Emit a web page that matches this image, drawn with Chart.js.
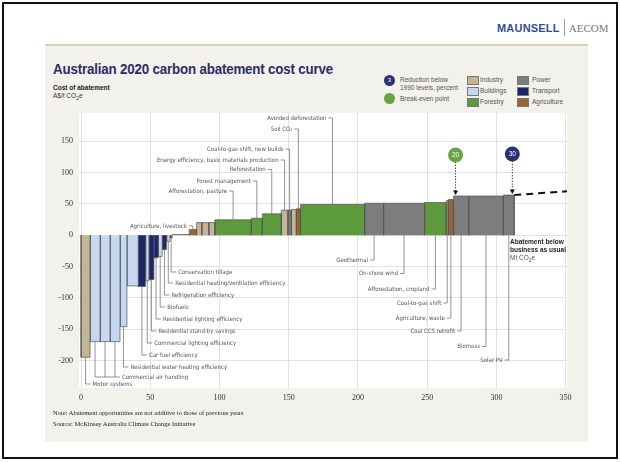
<!DOCTYPE html>
<html>
<head>
<meta charset="utf-8">
<script src="https://cdn.jsdelivr.net/npm/chart.js@4.4.0/dist/chart.umd.min.js"></script>
<style>
  html, body { margin: 0; padding: 0; background: #fff; }
  #page { position: relative; width: 620px; height: 462px; overflow: hidden; font-family: "Liberation Sans", Arial, sans-serif; }
  #frame { position: absolute; left: 2px; top: 2px; width: 612px; height: 453px; border: 2px solid #111; }
  #panel { position: absolute; left: 45px; top: 44px; width: 543px; height: 396px; background: #f2f1ec; border-top: 2px solid #d8d2b6; }
  #logo { position: absolute; left: 497px; top: 19px; height: 18px; font-size: 11px; line-height: 18px; white-space: nowrap; }
  #logo .m { color: #2f4f95; font-weight: bold; letter-spacing: 0.2px; }
  #logo .sep { display: inline-block; width: 1px; height: 17px; background: #999; vertical-align: top; margin: 0 4px 0 4px; }
  #logo .a { color: #777; font-family: "Liberation Serif", serif; }
  #title { position: absolute; left: 53px; top: 60px; font-size: 15.5px; font-weight: bold; color: #2b2e63; white-space: nowrap; letter-spacing: -0.2px; transform: scaleX(0.86); transform-origin: left center; }
  #ylab { position: absolute; left: 53px; top: 84px; font-size: 6.5px; color: #333; line-height: 8px; }
  #ylab b { color: #222; }
  #chartBox { position: absolute; left: 0; top: 0; }
  .leg { position: absolute; font-size: 6.5px; color: #555; line-height: 8px; white-space: nowrap; }
  .dot { position: absolute; width: 11px; height: 11px; border-radius: 50%; color: #fff; font-size: 6px; text-align: center; line-height: 11px; }
  .sw { position: absolute; width: 10px; height: 7px; border: 0.8px solid #777; }
  #bau { position: absolute; left: 510px; top: 238px; font-size: 6.5px; line-height: 8px; color: #222; }
  #notes { position: absolute; left: 53px; top: 407px; font-family: "Liberation Serif", serif; font-size: 6.5px; line-height: 11px; color: #222; }
</style>
</head>
<body>
<div id="page">
  <div id="frame"></div>
  <div id="logo"><span class="m">MAUNSELL</span><span class="sep"></span><span class="a">AECOM</span></div>
  <div id="panel"></div>
  <div id="title">Australian 2020 carbon abatement cost curve</div>
  <div id="ylab"><b>Cost of abatement</b><br>A$/t CO<sub style="font-size:5px">2</sub>e</div>

  <div class="dot" style="left:384px;top:75px;background:#2c3177;">3</div>
  <div class="leg" style="left:400px;top:76px;">Reduction below<br>1990 levels, percent</div>
  <div class="dot" style="left:384px;top:93px;background:#6aa343;"></div>
  <div class="leg" style="left:400px;top:95px;">Break-even point</div>

  <div class="sw" style="left:467px;top:76px;background:#c3b594;"></div>
  <div class="leg" style="left:480px;top:76px;">Industry</div>
  <div class="sw" style="left:467px;top:87px;background:#c5d8ef;"></div>
  <div class="leg" style="left:480px;top:87px;">Buildings</div>
  <div class="sw" style="left:467px;top:98px;background:#5c9a3d;"></div>
  <div class="leg" style="left:480px;top:98px;">Forestry</div>
  <div class="sw" style="left:517px;top:76px;background:#7d7d7d;"></div>
  <div class="leg" style="left:532px;top:76px;">Power</div>
  <div class="sw" style="left:517px;top:87px;background:#20246a;"></div>
  <div class="leg" style="left:532px;top:87px;">Transport</div>
  <div class="sw" style="left:517px;top:98px;background:#9b6434;"></div>
  <div class="leg" style="left:532px;top:98px;">Agriculture</div>

  <canvas id="chartBox" width="620" height="462"></canvas>

  <div id="bau"><b>Abatement below<br>business as usual</b><br><span style="color:#555">Mt CO<sub style="font-size:5px">2</sub>e</span></div>
  <div id="notes">Note: Abatement opportunities are not additive to those of previous years<br>Source: McKinsey Australia Climate Change Initiative</div>
</div>

<script>
// abatement levers, left to right along the curve
const leverNames = [
  "Motor systems", "Commercial air handling", "Commercial air handling", "Commercial air handling",
  "Residential water heating efficiency", "", "Car fuel efficiency", "Commercial lighting efficiency",
  "Residential stand-by savings", "Residential lighting efficiency", "Biofuels", "Refrigeration efficiency",
  "Residential heating/ventilation efficiency", "Conservation tillage",
  "", "Agriculture, livestock", "", "", "",
  "Afforestation, pasture", "Forest management", "Reforestation",
  "Energy efficiency, basic materials production", "Coal-to-gas shift, new builds", "", "Soil CO₂",
  "Avoided deforestation", "Geothermal", "On-shore wind", "Afforestation, cropland",
  "Coal-to-gas shift", "Agriculture, waste", "Coal CCS retrofit", "Biomass", "Solar PV"
];
const leverSectors = [
  "Industry", "Buildings", "Buildings", "Buildings",
  "Buildings", "Buildings", "Transport", "Buildings",
  "Transport", "Transport", "Buildings", "Transport",
  "Buildings", "Agriculture",
  "Industry", "Agriculture", "Industry", "Industry", "Industry",
  "Forestry", "Forestry", "Forestry",
  "Industry", "Power", "Industry", "Agriculture",
  "Forestry", "Power", "Power", "Forestry",
  "Industry", "Agriculture", "Power", "Power", "Power"
];
// abatement volume, Mt CO2e (bar widths)
const leverVolumes = [
  6.5, 7.2, 7.2, 7.2,
  5.0, 8.2, 5.3, 2.4,
  3.6, 3.1, 2.9, 3.2,
  2.4, 1.7,
  12.2, 5.3, 3.8, 5.1, 4.3,
  26.4, 7.9, 13.7,
  4.8, 2.5, 3.6, 2.9,
  46.4, 13.7, 29.6, 15.7,
  1.4, 3.8, 11.0, 25.0, 7.9
];
// cost of abatement, A$/t CO2e (bar heights)
const leverCosts = [
  -195, -170, -170, -170,
  -146, -81, -82, -73,
  -71, -36, -34, -23,
  -10, -4.5,
  1, 9, 20, 20, 20,
  24.5, 27, 34,
  40, 40, 41, 42,
  49, 51, 51, 52,
  55, 57, 62.5, 62.5, 64
];
// dashed continuation of the curve
const trendVolumes = [312.9, 351];
const trendCosts = [64, 70];
// reduction markers: label, abatement volume where reached
const markerLabels = ["20", "30"];
const markerVolumes = [270.5, 311.5];

const xTicks = [0, 50, 100, 150, 200, 250, 300, 350];
const yTicks = [-200, -150, -100, -50, 0, 50, 100, 150];

const sectorColors = {
  Industry: "#c3b594", Buildings: "#c5d8ef", Forestry: "#5c9a3d",
  Power: "#7d7d7d", Transport: "#20246a", Agriculture: "#9b6434"
};
const markerColors = ["#6aa343", "#2c3177"];

// label placement: pixel row, side of text relative to leader
const labelLayout = {
  "Motor systems": [384, "r"],
  "Commercial air handling": [377, "r"],
  "Residential water heating efficiency": [367, "r"],
  "Car fuel efficiency": [355, "r"],
  "Commercial lighting efficiency": [343, "r"],
  "Residential stand-by savings": [331, "r"],
  "Residential lighting efficiency": [319, "r"],
  "Biofuels": [307, "r"],
  "Refrigeration efficiency": [295, "r"],
  "Residential heating/ventilation efficiency": [283, "r"],
  "Conservation tillage": [272, "r"],
  "Agriculture, livestock": [226, "l"],
  "Afforestation, pasture": [191, "l"],
  "Forest management": [181, "l"],
  "Reforestation": [169.5, "l"],
  "Energy efficiency, basic materials production": [160, "l"],
  "Coal-to-gas shift, new builds": [149, "l"],
  "Soil CO₂": [129, "l"],
  "Avoided deforestation": [118, "l"],
  "Geothermal": [260, "l"],
  "On-shore wind": [273.5, "l"],
  "Afforestation, cropland": [289, "l"],
  "Coal-to-gas shift": [303, "l"],
  "Agriculture, waste": [318, "l"],
  "Coal CCS retrofit": [331, "l"],
  "Biomass": [346.5, "l"],
  "Solar PV": [360, "l"]
};

// cumulative start/end of each lever
const leverStart = [];
const leverEnd = [];
let run = 0;
leverVolumes.forEach((w) => {
  leverStart.push(run);
  run += w;
  leverEnd.push(run);
});

const datasets = leverVolumes.map((w, i) => ({
  data: [
    { x: leverStart[i], y: 0 },
    { x: leverStart[i], y: leverCosts[i] },
    { x: leverEnd[i], y: leverCosts[i] },
    { x: leverEnd[i], y: 0 }
  ],
  fill: "origin",
  backgroundColor: sectorColors[leverSectors[i]],
  borderColor: "#555",
  borderWidth: 0.7,
  pointRadius: 0,
  tension: 0
}));

datasets.push({
  data: trendVolumes.map((v, i) => ({ x: v, y: trendCosts[i] })),
  fill: false,
  borderColor: "#111",
  borderWidth: 2,
  borderDash: [7, 5],
  pointRadius: 0
});

const plotBackground = {
  id: "plotBackground",
  beforeDraw(chart) {
    const { ctx, chartArea: a } = chart;
    ctx.save();
    ctx.fillStyle = "#fff";
    ctx.fillRect(a.left, a.top, a.right - a.left, a.bottom - a.top);
    ctx.restore();
  }
};

const leverLabels = {
  id: "leverLabels",
  afterDatasetsDraw(chart) {
    const { ctx, scales: { x, y } } = chart;
    const zero = y.getPixelForValue(0);
    ctx.save();
    ctx.strokeStyle = "#666";
    ctx.lineWidth = 0.7;
    ctx.fillStyle = "#555";
    ctx.font = '6px "Liberation Sans Narrow", "DejaVu Sans Condensed", "Liberation Sans", sans-serif';
    ctx.textBaseline = "middle";

    // group consecutive levers that share one label
    const groups = [];
    leverNames.forEach((name, i) => {
      if (!name) return;
      const last = groups[groups.length - 1];
      if (last && last.name === name && last.idx[last.idx.length - 1] === i - 1) last.idx.push(i);
      else groups.push({ name, idx: [i] });
    });

    groups.forEach((g) => {
      const lay = labelLayout[g.name];
      if (!lay) return;
      const row = lay[0];
      const xs = g.idx.map((i) => x.getPixelForValue((leverStart[i] + leverEnd[i]) / 2));
      g.idx.forEach((i, k) => {
        const top = y.getPixelForValue(leverCosts[i]);
        const from = (row > zero) ? Math.max(top, zero) : Math.min(top, zero);
        ctx.beginPath();
        ctx.moveTo(xs[k], from);
        ctx.lineTo(xs[k], row);
        ctx.stroke();
      });
      ctx.beginPath();
      if (lay[1] === "r") {
        const end = xs[xs.length - 1] + 5;
        ctx.moveTo(xs[0], row);
        ctx.lineTo(end, row);
        ctx.stroke();
        ctx.textAlign = "left";
        ctx.fillText(g.name, end + 2, row);
      } else {
        ctx.moveTo(xs[0] - 4, row);
        ctx.lineTo(xs[0], row);
        ctx.stroke();
        ctx.textAlign = "right";
        ctx.fillText(g.name, xs[0] - 6, row);
      }
    });
    ctx.restore();
  }
};

const reductionMarkers = {
  id: "reductionMarkers",
  afterDatasetsDraw(chart) {
    const { ctx, scales: { x, y } } = chart;
    ctx.save();
    markerVolumes.forEach((v, m) => {
      let cost = 0;
      leverVolumes.forEach((w, i) => {
        if (v >= leverStart[i] - 0.01 && v <= leverEnd[i] + 0.01) cost = Math.max(cost, leverCosts[i]);
      });
      const px = x.getPixelForValue(v);
      const tip = y.getPixelForValue(cost) - 1;
      const cy = tip - 40;
      ctx.strokeStyle = "#222";
      ctx.lineWidth = 1;
      ctx.setLineDash([1.2, 1.6]);
      ctx.beginPath();
      ctx.moveTo(px, cy + 7);
      ctx.lineTo(px, tip - 4);
      ctx.stroke();
      ctx.setLineDash([]);
      ctx.fillStyle = "#111";
      ctx.beginPath();
      ctx.moveTo(px - 2.5, tip - 4.5);
      ctx.lineTo(px + 2.5, tip - 4.5);
      ctx.lineTo(px, tip);
      ctx.closePath();
      ctx.fill();
      ctx.fillStyle = markerColors[m];
      ctx.beginPath();
      ctx.arc(px, cy, 7.5, 0, Math.PI * 2);
      ctx.fill();
      ctx.fillStyle = "#fff";
      ctx.font = '6.5px "Liberation Sans", sans-serif';
      ctx.textAlign = "center";
      ctx.textBaseline = "middle";
      ctx.fillText(markerLabels[m], px, cy + 0.5);
    });
    ctx.restore();
  }
};

new Chart(document.getElementById("chartBox").getContext("2d"), {
  type: "line",
  data: { datasets },
  options: {
    responsive: false,
    animation: false,
    layout: { padding: { left: 0, right: 53, top: 113, bottom: 54 } },
    plugins: { legend: { display: false }, tooltip: { enabled: false } },
    scales: {
      x: {
        type: "linear",
        min: -1.5,
        max: 351,
        afterBuildTicks: (s) => { s.ticks = xTicks.map((v) => ({ value: v })); },
        afterFit: (s) => { s.height = 20; },
        grid: { color: "#e2e2e2", drawTicks: false },
        border: { display: false },
        ticks: { padding: 5, color: "#333", font: { family: "Liberation Serif", size: 8 }, callback: (v) => String(v) }
      },
      y: {
        min: -244,
        max: 195,
        afterBuildTicks: (s) => { s.ticks = yTicks.map((v) => ({ value: v })); },
        afterFit: (s) => { s.width = 79; },
        grid: { color: "#e2e2e2", drawTicks: false },
        border: { display: false },
        ticks: { padding: 6, color: "#333", font: { family: "Liberation Serif", size: 8 }, callback: (v) => String(v) }
      }
    }
  },
  plugins: [plotBackground, leverLabels, reductionMarkers]
});
</script>
</body>
</html>
